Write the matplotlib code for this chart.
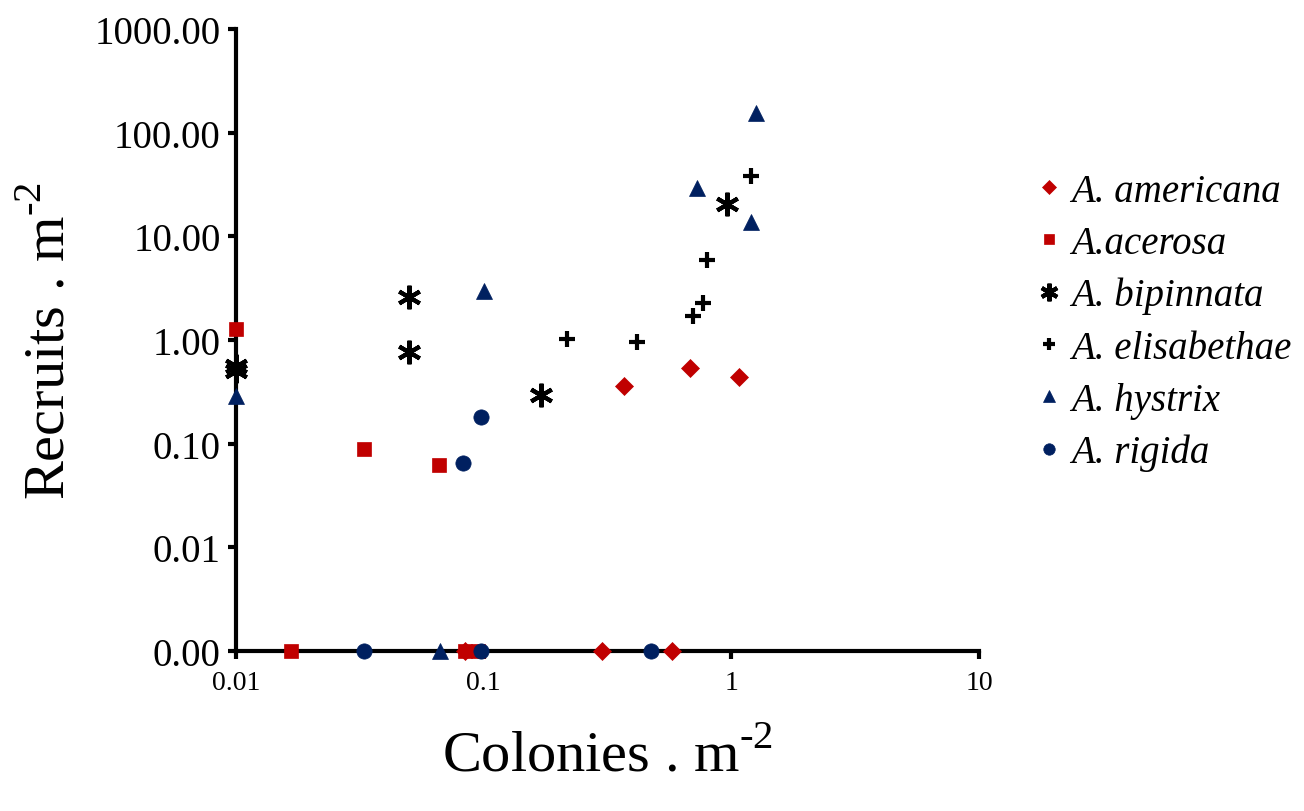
import matplotlib.pyplot as plt
import matplotlib as mpl
from matplotlib import ticker

plt.switch_backend("agg")

mpl.rcParams["font.family"] = "Liberation Serif"
mpl.rcParams["mathtext.fontset"] = "custom"
mpl.rcParams["mathtext.rm"] = "Liberation Serif"

# zero recruits are drawn on the bottom axis (0.001, shown as 0.00)
americana_x = [0.37, 0.68, 1.07, 0.30, 0.575, 0.084]
americana_y = [0.36, 0.54, 0.44, 0.001, 0.001, 0.001]

acerosa_x = [0.01, 0.033, 0.066, 0.0167, 0.084, 0.095]
acerosa_y = [1.28, 0.089, 0.0625, 0.001, 0.001, 0.001]

bipinnata_x = [0.01, 0.01, 0.05, 0.05, 0.17, 0.96]
bipinnata_y = [0.50, 0.56, 2.6, 0.77, 0.296, 20.5]

elisabethae_x = [0.217, 0.416, 0.70, 0.77, 0.80, 1.2]
elisabethae_y = [1.02, 0.96, 1.71, 2.28, 5.9, 38.0]

hystrix_x = [0.01, 0.1, 0.73, 1.2, 1.26, 0.0667]
hystrix_y = [0.29, 2.98, 29.3, 13.8, 155.0, 0.001]

rigida_x = [0.098, 0.0825, 0.033, 0.098, 0.473]
rigida_y = [0.181, 0.065, 0.001, 0.001, 0.001]

RED = "#C00000"
NAVY = "#002060"

series = [
    ("A. americana", americana_x, americana_y, "D", RED, 9),
    ("A.acerosa", acerosa_x, acerosa_y, "s", RED, 10),
    ("A. bipinnata", bipinnata_x, bipinnata_y, (6, 2, 0), "black", 17),
    ("A. elisabethae", elisabethae_x, elisabethae_y, "+", "black", 11),
    ("A. hystrix", hystrix_x, hystrix_y, "^", NAVY, 11),
    ("A. rigida", rigida_x, rigida_y, "o", NAVY, 11),
]

fig = plt.figure(figsize=(13.04, 8.12), dpi=100)
ax = fig.add_axes([236 / 1304, 1 - 652 / 812, (979 - 236) / 1304, (652 - 30) / 812])

handles = []
for name, xs, ys, mk, col, ms in series:
    h, = ax.plot(
        xs, ys, linestyle="none", marker=mk, color=col, markersize=ms,
        markeredgewidth=3 if mk in ("+", (6, 2, 0)) else 0.5,
        markeredgecolor=col, clip_on=False, zorder=3, label=name,
    )
    handles.append(h)

ax.set_xscale("log")
ax.set_yscale("log")
ax.set_xlim(0.01, 10)
ax.set_ylim(0.001, 1000)

ax.xaxis.set_major_locator(ticker.FixedLocator([0.01, 0.1, 1, 10]))
ax.xaxis.set_major_formatter(ticker.FixedFormatter(["0.01", "0.1", "1", "10"]))
ax.xaxis.set_minor_locator(ticker.NullLocator())
ax.yaxis.set_major_locator(ticker.FixedLocator([0.001, 0.01, 0.1, 1, 10, 100, 1000]))
ax.yaxis.set_major_formatter(ticker.FormatStrFormatter("%.2f"))
ax.yaxis.set_minor_locator(ticker.NullLocator())

for side in ("top", "right"):
    ax.spines[side].set_visible(False)
for side in ("left", "bottom"):
    ax.spines[side].set_linewidth(3)
ax.tick_params(axis="both", direction="out", length=6, width=3, colors="black")
ax.tick_params(axis="y", labelsize=28, pad=5)
ax.tick_params(axis="x", labelsize=20, pad=8)

# hyphen (U+2010) instead of the minus sign mathtext would give
ax.set_xlabel("Colonies . m$^{\\mathregular{\u20102}}$", fontsize=42, labelpad=24)
ax.set_ylabel("Recruits . m$^{\\mathregular{\u20102}}$", fontsize=42, labelpad=14)

leg = fig.legend(
    handles=handles, loc="upper left", bbox_to_anchor=(1024 / 1304, 1 - 158 / 812),
    frameon=False, prop={"family": "Liberation Serif", "style": "italic", "size": 28},
    handlelength=0.5, handletextpad=0.3, labelspacing=0.39, markerscale=0.75,
    borderaxespad=0,
)

fig.savefig("out.png", dpi=100)
